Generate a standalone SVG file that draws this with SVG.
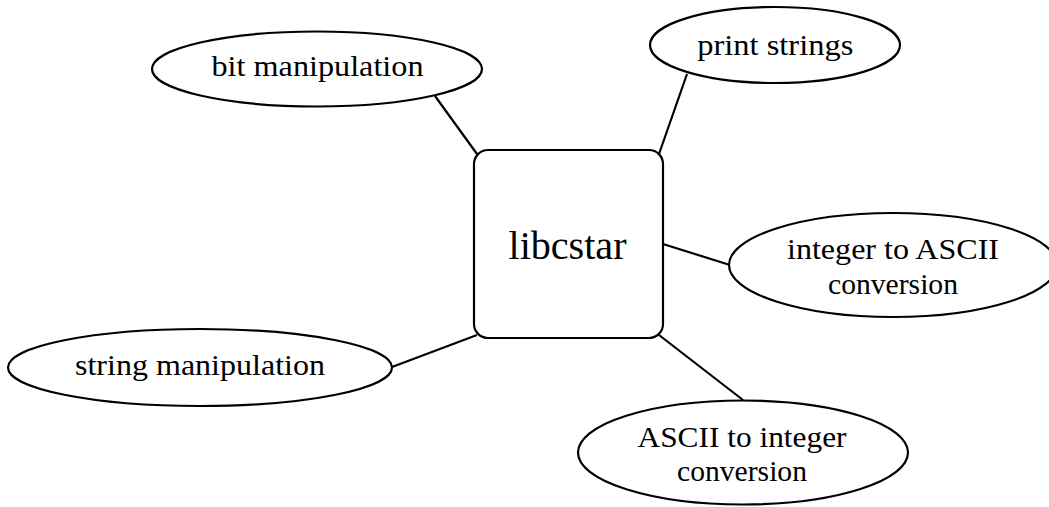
<svg xmlns="http://www.w3.org/2000/svg" width="1049" height="507" viewBox="0 0 1049 507">
  <style>
    .shape { fill: #ffffff; stroke: #000000; stroke-width: 2.2; }
    .edge { stroke: #000000; stroke-width: 2.2; fill: none; }
    text { fill: #000000; text-anchor: middle; }
    .label { font-size: 30px; }
    .title { font-size: 39px; }
  </style>
  <rect width="1049" height="507" fill="#ffffff"/>

  <!-- connectors from the hub to each topic -->
  <g id="connectors">
    <line class="edge" x1="477" y1="154" x2="435" y2="96"/>
    <line class="edge" x1="659" y1="154" x2="687" y2="74"/>
    <line class="edge" x1="663" y1="244" x2="730" y2="265"/>
    <line class="edge" x1="477" y1="335" x2="392" y2="367"/>
    <line class="edge" x1="659" y1="335" x2="743" y2="400"/>
  </g>

  <g font-family="'Liberation Serif', 'DejaVu Serif', 'Times New Roman', serif">
    <g id="libcstar">
      <rect class="shape" x="474" y="150" width="189" height="188" rx="14" ry="14"/>
      <text class="title" x="567.5" y="258.5" textLength="118" lengthAdjust="spacingAndGlyphs">libcstar</text>
    </g>

    <g id="bit-manipulation">
      <ellipse class="shape" cx="317" cy="69" rx="165" ry="37.5"/>
      <text class="label" x="317.5" y="76" textLength="212" lengthAdjust="spacingAndGlyphs">bit manipulation</text>
    </g>

    <g id="print-strings">
      <ellipse class="shape" cx="775" cy="45" rx="125" ry="38"/>
      <text class="label" x="775.3" y="55" textLength="156" lengthAdjust="spacingAndGlyphs">print strings</text>
    </g>

    <g id="integer-to-ascii">
      <ellipse class="shape" cx="893" cy="265" rx="164" ry="52"/>
      <text class="label" x="893" y="259" textLength="212" lengthAdjust="spacingAndGlyphs">integer to ASCII</text>
      <text class="label" x="893" y="293.5" textLength="130" lengthAdjust="spacingAndGlyphs">conversion</text>
    </g>

    <g id="string-manipulation">
      <ellipse class="shape" cx="200" cy="367.5" rx="192" ry="38.5"/>
      <text class="label" x="200" y="374.5" textLength="250" lengthAdjust="spacingAndGlyphs">string manipulation</text>
    </g>

    <g id="ascii-to-integer">
      <ellipse class="shape" cx="743" cy="452.5" rx="165" ry="52"/>
      <text class="label" x="742" y="446.5" textLength="209" lengthAdjust="spacingAndGlyphs">ASCII to integer</text>
      <text class="label" x="742" y="481" textLength="130" lengthAdjust="spacingAndGlyphs">conversion</text>
    </g>
  </g>
</svg>
